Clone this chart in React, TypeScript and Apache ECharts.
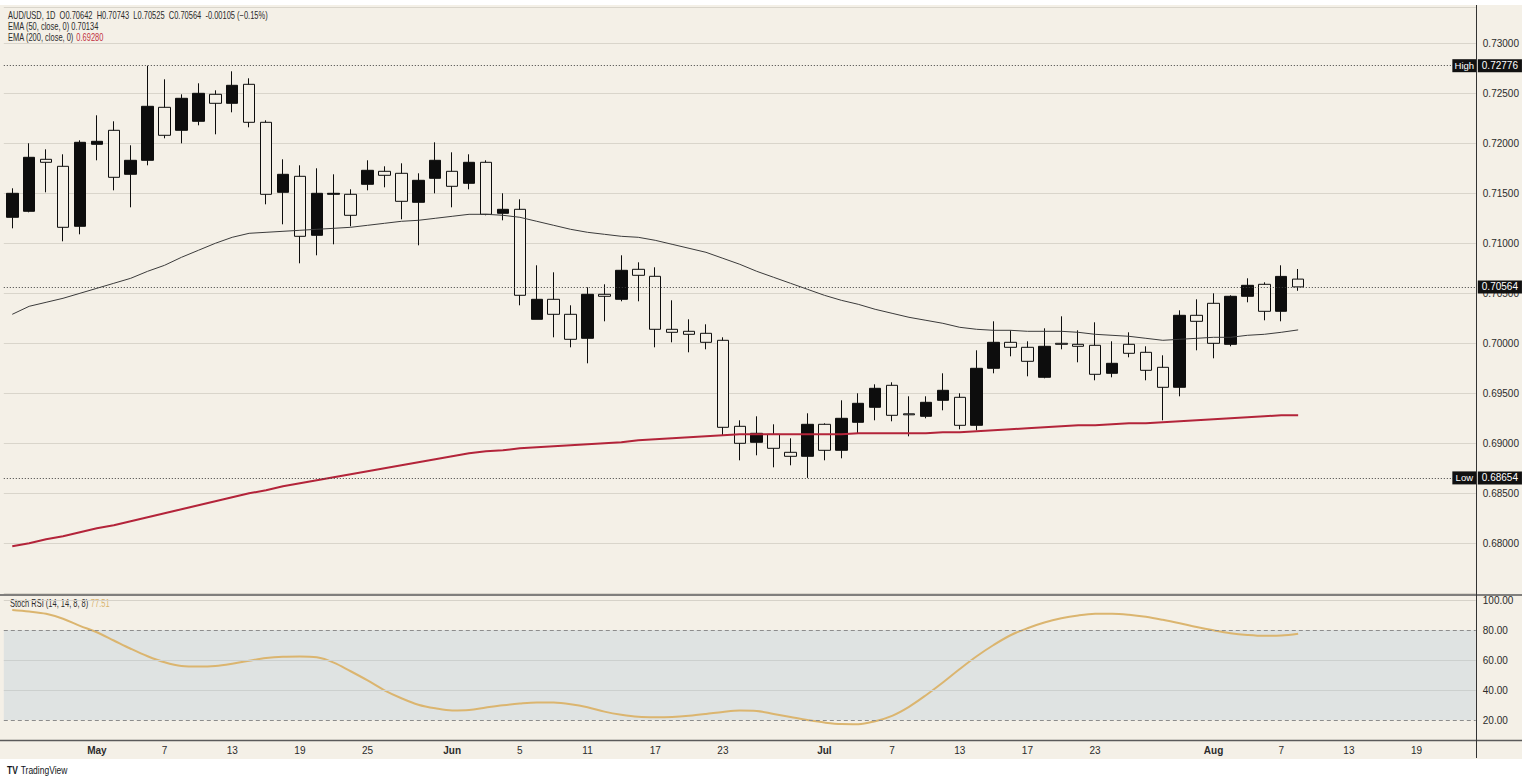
import React, { useEffect, useRef } from "react";
import * as echarts from "echarts";

// ---------- data ----------
const categories: string[] = [
  "2026-04-24", "2026-04-27", "2026-04-28", "2026-04-29", "2026-04-30",
  "2026-05-01", "2026-05-04", "2026-05-05", "2026-05-06", "2026-05-07", "2026-05-08",
  "2026-05-11", "2026-05-12", "2026-05-13", "2026-05-14", "2026-05-15",
  "2026-05-18", "2026-05-19", "2026-05-20", "2026-05-21", "2026-05-22",
  "2026-05-25", "2026-05-26", "2026-05-27", "2026-05-28", "2026-05-29",
  "2026-06-01", "2026-06-02", "2026-06-03", "2026-06-04", "2026-06-05",
  "2026-06-08", "2026-06-09", "2026-06-10", "2026-06-11", "2026-06-12",
  "2026-06-15", "2026-06-16", "2026-06-17", "2026-06-18", "2026-06-19",
  "2026-06-22", "2026-06-23", "2026-06-24", "2026-06-25", "2026-06-26",
  "2026-06-29", "2026-06-30", "2026-07-01", "2026-07-02", "2026-07-03",
  "2026-07-06", "2026-07-07", "2026-07-08", "2026-07-09", "2026-07-10",
  "2026-07-13", "2026-07-14", "2026-07-15", "2026-07-16", "2026-07-17",
  "2026-07-20", "2026-07-21", "2026-07-22", "2026-07-23", "2026-07-24",
  "2026-07-27", "2026-07-28", "2026-07-29", "2026-07-30", "2026-07-31",
  "2026-08-03", "2026-08-04", "2026-08-05", "2026-08-06", "2026-08-07",
  "2026-08-10", "2026-08-11", "2026-08-12", "2026-08-13", "2026-08-14",
  "2026-08-17", "2026-08-18", "2026-08-19", "2026-08-20", "2026-08-21",
  "2026-08-24",
];

const tickDates: string[] = [
  "2026-05-01", "2026-05-07", "2026-05-13", "2026-05-19", "2026-05-25",
  "2026-06-01", "2026-06-05", "2026-06-11", "2026-06-17", "2026-06-23",
  "2026-07-01", "2026-07-07", "2026-07-13", "2026-07-17", "2026-07-23",
  "2026-08-03", "2026-08-07", "2026-08-13", "2026-08-19",
];
const tickTexts: string[] = [
  "May", "7", "13", "19", "25",
  "Jun", "5", "11", "17", "23",
  "Jul", "7", "13", "17", "23",
  "Aug", "7", "13", "19",
];
const monthTicks: string[] = ["May", "Jun", "Jul", "Aug"];

const opens: number[] = [
  0.7126, 0.7132, 0.7184, 0.7177, 0.7117,
  0.7199, 0.7213, 0.7169, 0.7183, 0.7236, 0.7213, 0.7222, 0.7249, 0.7240, 0.7259,
  0.7221, 0.7151, 0.7167, 0.7108, 0.7149, 0.7149, 0.7159, 0.7172, 0.7170, 0.7141,
  0.7165, 0.7172, 0.7160, 0.7181, 0.7130, 0.7134, 0.7024, 0.7044, 0.7029, 0.7005,
  0.7049, 0.7044, 0.7074, 0.7067, 0.7014, 0.7012, 0.7010, 0.7003, 0.6917, 0.6901,
  0.6909, 0.6891, 0.6887, 0.6919, 0.6893, 0.6921, 0.6936, 0.6958, 0.69295, 0.6927,
  0.6943, 0.6946, 0.6918, 0.6975, 0.7001, 0.6996, 0.6966, 0.7000, 0.6999, 0.6998,
  0.6970, 0.6999, 0.6991, 0.6976, 0.6956, 0.7028, 0.7040, 0.6999, 0.7047, 0.7059,
  0.7032, 0.70642,
];
const highs: number[] = [
  0.7155, 0.7200, 0.7194, 0.7189, 0.7203,
  0.7228, 0.7222, 0.7198, 0.72776, 0.7264, 0.7249, 0.7260, 0.7253, 0.7272, 0.7265,
  0.7223, 0.7184, 0.7178, 0.7175, 0.7169, 0.7154, 0.7183, 0.7177, 0.7180, 0.7170,
  0.7201, 0.7191, 0.7189, 0.7183, 0.7150, 0.7144, 0.7078, 0.7071, 0.7038, 0.7056,
  0.7059, 0.7088, 0.7081, 0.7076, 0.7043, 0.7024, 0.7019, 0.7006, 0.6923, 0.6927,
  0.6919, 0.6905, 0.6930, 0.6920, 0.6943, 0.6950, 0.6959, 0.6961, 0.6947, 0.6947,
  0.6970, 0.6950, 0.6993, 0.7022, 0.7013, 0.7002, 0.7015, 0.7027, 0.7013, 0.7021,
  0.7002, 0.7011, 0.6997, 0.6988, 0.7033, 0.7044, 0.7050, 0.7048, 0.7065, 0.7061,
  0.7078, 0.70743,
];
const lows: number[] = [
  0.7115, 0.7131, 0.7151, 0.7102, 0.7109,
  0.7183, 0.7153, 0.7136, 0.7178, 0.7205, 0.7200, 0.7218, 0.7209, 0.7231, 0.7216,
  0.7139, 0.7119, 0.7080, 0.7088, 0.7099, 0.7117, 0.7153, 0.7156, 0.7124, 0.7098,
  0.7150, 0.7136, 0.7154, 0.7128, 0.7123, 0.7038, 0.7024, 0.7006, 0.6996, 0.6980,
  0.7022, 0.7042, 0.7042, 0.6996, 0.7001, 0.6991, 0.6994, 0.6908, 0.6883, 0.6888,
  0.6876, 0.6878, 0.68654, 0.6883, 0.6885, 0.6910, 0.6923, 0.6922, 0.6907, 0.6925,
  0.6933, 0.6914, 0.6913, 0.6970, 0.6987, 0.6967, 0.6965, 0.6994, 0.6981, 0.6963,
  0.6966, 0.6986, 0.6963, 0.6923, 0.6947, 0.6993, 0.6985, 0.6997, 0.7041, 0.7023,
  0.7022, 0.70525,
];
const closes: number[] = [
  0.7150, 0.7186, 0.7181, 0.7116, 0.7201,
  0.7202, 0.7166, 0.7183, 0.7237, 0.7208, 0.7245, 0.7250, 0.7240, 0.7258, 0.7221,
  0.7149, 0.7169, 0.7107, 0.7150, 0.7150, 0.7128, 0.7173, 0.7168, 0.7142, 0.7163,
  0.7183, 0.7157, 0.7181, 0.7129, 0.7134, 0.7048, 0.7044, 0.7029, 0.7004, 0.7049,
  0.7047, 0.7073, 0.7068, 0.7014, 0.7011, 0.7009, 0.7001, 0.6916, 0.6900, 0.6910,
  0.6895, 0.6887, 0.6919, 0.6893, 0.6925, 0.6940, 0.6955, 0.6928, 0.69285, 0.6941,
  0.6953, 0.6918, 0.6975, 0.7001, 0.6996, 0.6982, 0.6997, 0.6999, 0.6997, 0.6969,
  0.6980, 0.6990, 0.6973, 0.6956, 0.7028, 0.7022, 0.7000, 0.7047, 0.7058, 0.7032,
  0.70669, 0.70564,
];

const ema50: number[] = [
  0.7029, 0.7037, 0.7041, 0.7045, 0.7050,
  0.7055, 0.7060, 0.7065, 0.7072, 0.7078, 0.7086, 0.7093, 0.7100, 0.7106, 0.7110,
  0.7111, 0.7112, 0.7113, 0.7114, 0.7115, 0.7116, 0.7118, 0.7120, 0.7122, 0.7123,
  0.7125, 0.7127, 0.7129, 0.7129, 0.7128, 0.7126, 0.7122, 0.7118, 0.7114, 0.7111,
  0.7109, 0.7107, 0.7106, 0.7103, 0.7099, 0.7095, 0.7091, 0.7085, 0.7079, 0.7072,
  0.7066, 0.7060, 0.7054, 0.7048, 0.7043, 0.7039, 0.7034, 0.7030, 0.7026, 0.7023,
  0.7020, 0.7016, 0.7014, 0.7013, 0.7013, 0.7012, 0.7012, 0.7012, 0.7011, 0.7009,
  0.7008, 0.7007, 0.7005, 0.7003, 0.7004, 0.7005, 0.7006, 0.7006, 0.7008, 0.7009,
  0.7011, 0.70134,
];
const ema200: number[] = [
  0.6797, 0.6800, 0.6804, 0.6807, 0.6811,
  0.6815, 0.6818, 0.6822, 0.6826, 0.6830, 0.6834, 0.6838, 0.6842, 0.6846, 0.6850,
  0.6853, 0.6857, 0.6860, 0.6863, 0.6866, 0.6869, 0.6872, 0.6875, 0.6878, 0.6881,
  0.6884, 0.6887, 0.6890, 0.6892, 0.6893, 0.6895, 0.6896, 0.6897, 0.6898, 0.6899,
  0.6900, 0.6901, 0.6903, 0.6904, 0.6905, 0.6906, 0.6907, 0.6908, 0.6909, 0.6909,
  0.6909, 0.6909, 0.6909, 0.6909, 0.6909, 0.6910, 0.6910, 0.6910, 0.6910, 0.6910,
  0.6911, 0.6911, 0.6912, 0.6913, 0.6914, 0.6915, 0.6916, 0.6917, 0.6918, 0.6918,
  0.6919, 0.6920, 0.6920, 0.6921, 0.6922, 0.6923, 0.6924, 0.6925, 0.6926, 0.6927,
  0.6928, 0.69280,
];
const stochRsi: number[] = [
  93.3, 92.3, 90.8, 87.5, 82.8,
  78.5, 73.0, 67.5, 62.5, 58.5, 56.0, 55.6, 56.0, 57.5, 59.5,
  61.3, 62.2, 62.4, 61.8, 58.3, 52.5, 46.4, 39.8, 34.5, 30.2,
  27.8, 26.4, 26.7, 28.3, 29.8, 31.0, 31.7, 31.6, 30.5, 28.5,
  25.6, 23.5, 22.1, 21.8, 22.0, 22.8, 24.0, 25.4, 26.3, 26.0,
  24.0, 22.0, 20.0, 18.3, 17.3, 17.2, 19.2, 22.8, 28.8, 36.5,
  45.0, 54.0, 62.5, 70.0, 76.5, 81.2, 85.0, 87.8, 89.7, 90.8,
  90.9, 90.2, 88.8, 86.8, 84.5, 82.0, 79.8, 77.9, 76.7, 76.1,
  76.3, 77.51,
];
const stochLevels: number[] = [100, 80, 60, 40, 20];
const stochBand: number[] = [20, 80];
const symbolName = "AUD/USD, 1D";

// ---------- styling ----------
const FONT = "'Liberation Sans Narrow', 'Liberation Sans', Arial, sans-serif";
const CREAM = "#f4f0e7";
const TEXT = "#2b2b2b";
const HEAD_SCALE = 0.75;

export default function App() {
  const ref = useRef<HTMLDivElement>(null);

  useEffect(() => {
    if (!ref.current) return;
    const chart = echarts.init(ref.current, undefined, { renderer: "svg" });

    const last = closes.length - 1;
    const highVal = Math.max(...highs);
    const lowVal = Math.min(...lows);
    const lastClose = closes[last];
    const chg = closes[last] - closes[last - 1];
    const chgPct = (chg / closes[last - 1]) * 100;
    const sign1 = chg < 0 ? "-" : "+";
    const sign2 = chg < 0 ? "\u2212" : "+";
    const header =
      `${symbolName}  O${opens[last].toFixed(5)}  H${highs[last].toFixed(5)}  L${lows[last].toFixed(5)}  C${closes[last].toFixed(5)}  ` +
      `${sign1}${Math.abs(chg).toFixed(5)} (${sign2}${Math.abs(chgPct).toFixed(2)}%)`;

    const tickMap: Record<string, string> = {};
    tickDates.forEach((d, i) => (tickMap[d] = tickTexts[i]));

    const gridLeft = 3.8;
    const gridWidth = 1472;

    const candleData = opens.map((o, i) => [o, closes[i], lows[i], highs[i]]);
    const lastCat = categories[categories.length - 1];

    const option: any = {
      animation: false,
      backgroundColor: "transparent",
      grid: [
        { left: gridLeft, width: gridWidth, top: 7.3, height: 586 },
        { left: gridLeft, width: gridWidth, top: 596, height: 154 },
        { left: gridLeft, width: gridWidth, top: 596, height: 144 },
      ],
      xAxis: [
        { type: "category", gridIndex: 0, data: categories, boundaryGap: true, show: false },
        { type: "category", gridIndex: 1, data: categories, boundaryGap: true, show: false },
        {
          type: "category",
          gridIndex: 2,
          data: categories,
          boundaryGap: true,
          axisLine: { show: false },
          axisTick: { show: false },
          splitLine: { show: false },
          axisLabel: {
            show: true,
            interval: (_i: number, v: string) => tickMap[v] !== undefined,
            margin: 5,
            formatter: (v: string) => {
              const t = tickMap[v] || "";
              return monthTicks.includes(t) ? `{m|${t}}` : `{n|${t}}`;
            },
            rich: {
              m: { fontFamily: FONT, fontSize: 10, fontWeight: "bold", color: TEXT },
              n: { fontFamily: FONT, fontSize: 10, color: TEXT },
            },
          },
        },
      ],
      yAxis: [
        {
          type: "value",
          gridIndex: 0,
          position: "right",
          min: 0.675,
          max: 0.7336,
          interval: 0.005,
          axisLine: { show: false },
          axisTick: { show: false },
          splitLine: { show: true, lineStyle: { color: "#d9d5cb", width: 1 } },
          axisLabel: {
            margin: 7,
            fontFamily: FONT,
            fontSize: 10,
            color: TEXT,
            showMinLabel: false,
            showMaxLabel: false,
            formatter: (v: number) => v.toFixed(5),
          },
        },
        {
          type: "value",
          gridIndex: 1,
          position: "right",
          min: 0,
          max: 102.67,
          interval: 20,
          axisLine: { show: false },
          axisTick: { show: false },
          splitLine: { show: false },
          axisLabel: {
            margin: 7,
            fontFamily: FONT,
            fontSize: 10,
            color: TEXT,
            showMinLabel: false,
            showMaxLabel: false,
            formatter: (v: number) => v.toFixed(2),
          },
        },
        { type: "value", gridIndex: 2, min: 0, max: 100, show: false },
      ],
      series: [
        {
          type: "candlestick",
          name: "AUDUSD",
          xAxisIndex: 0,
          yAxisIndex: 0,
          data: candleData,
          barWidth: 12,
          itemStyle: {
            color: "#0d0d0d",
            color0: CREAM,
            borderColor: "#0d0d0d",
            borderColor0: "#0d0d0d",
            borderWidth: 1,
          },
          markLine: {
            silent: true,
            precision: 5,
            symbol: ["none", "none"],
            lineStyle: { type: [1, 2], color: "#3f3f3f", width: 1 },
            label: {
              show: true,
              position: "end",
              distance: 2,
              formatter: (p: any) => Number(p.value).toFixed(5),
              backgroundColor: "#111111",
              color: "#ffffff",
              padding: [2, 4, 1, 4],
              fontFamily: FONT,
              fontSize: 10,
            },
            data: [{ yAxis: highVal }, { yAxis: lowVal }, { yAxis: lastClose }],
          },
          markPoint: {
            silent: true,
            symbol: "rect",
            symbolSize: [24, 13],
            symbolOffset: [-3, 0],
            itemStyle: { color: "#111111" },
            label: {
              show: true,
              color: "#ffffff",
              fontFamily: FONT,
              fontSize: 9.5,
              formatter: (p: any) => p.name,
            },
            data: [
              { name: "High", coord: [lastCat, highVal] },
              { name: "Low", coord: [lastCat, lowVal] },
            ],
          },
        },
        {
          type: "line",
          name: "EMA50",
          xAxisIndex: 0,
          yAxisIndex: 0,
          data: ema50,
          showSymbol: false,
          lineStyle: { color: "#3b3b3b", width: 1 },
          z: 3,
        },
        {
          type: "line",
          name: "EMA200",
          xAxisIndex: 0,
          yAxisIndex: 0,
          data: ema200,
          showSymbol: false,
          lineStyle: { color: "#b3243a", width: 2 },
          z: 3,
        },
        {
          type: "line",
          name: "Stoch RSI",
          xAxisIndex: 1,
          yAxisIndex: 1,
          data: stochRsi,
          showSymbol: false,
          smooth: 0.35,
          lineStyle: { color: "#dbb56f", width: 2 },
          z: 4,
          markArea: {
            silent: true,
            itemStyle: { color: "#dfe3e2" },
            data: [[{ yAxis: stochBand[0] }, { yAxis: stochBand[1] }]],
          },
          markLine: {
            silent: true,
            symbol: ["none", "none"],
            label: { show: false },
            data: stochLevels.map((lv) =>
              lv === 80 || lv === 20
                ? { yAxis: lv, lineStyle: { type: [4, 3], color: "#8c8c8c", width: 1 } }
                : { yAxis: lv, lineStyle: { type: "solid", color: lv === 100 ? "#d6d2c9" : "#ccd0ce", width: 1 } }
            ),
          },
        },
      ],
      graphic: [
        {
          type: "text",
          x: 8,
          y: 16,
          scaleX: HEAD_SCALE,
          silent: true,
          style: { text: header, fill: TEXT, font: `10px ${FONT}`, verticalAlign: "middle" },
        },
        {
          type: "text",
          x: 8,
          y: 27,
          scaleX: HEAD_SCALE,
          silent: true,
          style: {
            text: `EMA (50, close, 0) ${ema50[last].toFixed(5)}`,
            fill: TEXT,
            font: `10px ${FONT}`,
            verticalAlign: "middle",
          },
        },
        {
          type: "text",
          x: 8,
          y: 38,
          scaleX: HEAD_SCALE,
          silent: true,
          style: {
            text: `{a|EMA (200, close, 0)} {r|${ema200[last].toFixed(5)}}`,
            verticalAlign: "middle",
            rich: {
              a: { fill: TEXT, fontFamily: FONT, fontSize: 10 },
              r: { fill: "#c2303f", fontFamily: FONT, fontSize: 10 },
            },
          },
        },
        {
          type: "text",
          x: 10,
          y: 604,
          scaleX: HEAD_SCALE,
          silent: true,
          style: {
            text: `{a|Stoch RSI (14, 14, 8, 8)} {r|${stochRsi[last].toFixed(2)}}`,
            verticalAlign: "middle",
            rich: {
              a: { fill: TEXT, fontFamily: FONT, fontSize: 10 },
              r: { fill: "#d9b46e", fontFamily: FONT, fontSize: 10 },
            },
          },
        },
        {
          type: "line",
          silent: true,
          shape: { x1: 0, y1: 595, x2: 1522, y2: 595 },
          style: { stroke: "#5a5a5a", lineWidth: 1.5 },
          z: 10,
        },
        {
          type: "line",
          silent: true,
          shape: { x1: 0, y1: 740.5, x2: 1522, y2: 740.5 },
          style: { stroke: "#5a5a5a", lineWidth: 1.5 },
          z: 10,
        },
        {
          type: "line",
          silent: true,
          shape: { x1: 1476.5, y1: 5, x2: 1476.5, y2: 758 },
          style: { stroke: "#333333", lineWidth: 1 },
          z: 10,
        },
        {
          type: "text",
          x: 7,
          y: 771,
          scaleX: 0.85,
          silent: true,
          style: {
            text: "{l|TV} {t|TradingView}",
            verticalAlign: "middle",
            rich: {
              l: { fill: "#131722", fontFamily: FONT, fontSize: 10, fontWeight: "bold" },
              t: { fill: "#131722", fontFamily: FONT, fontSize: 10 },
            },
          },
        },
      ],
    };

    chart.setOption(option);
    return () => chart.dispose();
  }, []);

  return (
    <div style={{ position: "fixed", left: 0, top: 0, width: 1528, height: 784, background: "#ffffff" }}>
      <div style={{ position: "absolute", left: 0, top: 5, width: 1522, height: 754, background: CREAM }} />
      <div ref={ref} style={{ position: "absolute", left: 0, top: 0, width: 1528, height: 784 }} />
    </div>
  );
}
